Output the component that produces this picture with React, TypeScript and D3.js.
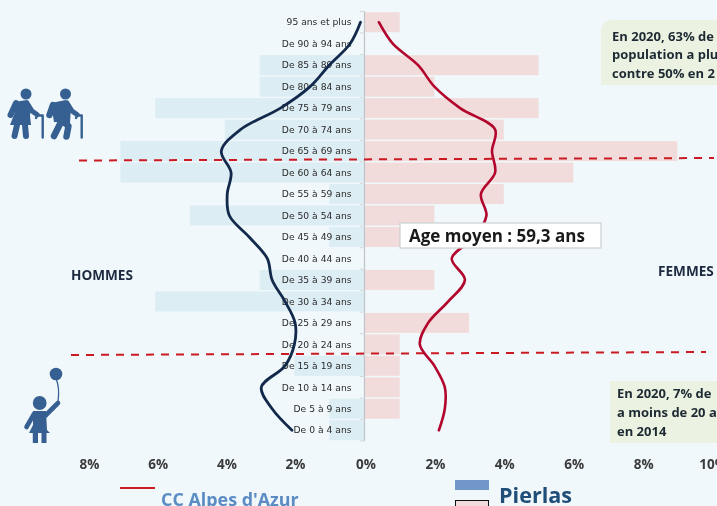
import React from "react";
import * as d3 from "d3";

const W = 717, H = 506;
const ageGroups = ["95 ans et plus","De 90 à 94 ans","De 85 à 89 ans","De 80 à 84 ans","De 75 à 79 ans","De 70 à 74 ans","De 65 à 69 ans","De 60 à 64 ans","De 55 à 59 ans","De 50 à 54 ans","De 45 à 49 ans","De 40 à 44 ans","De 35 à 39 ans","De 30 à 34 ans","De 25 à 29 ans","De 20 à 24 ans","De 15 à 19 ans","De 10 à 14 ans","De 5 à 9 ans","De 0 à 4 ans"];
const pierlasHommes = [0,0,3,3,6,4,7,7,1,5,1,0,3,6,0,0,2,0,1,1];
const pierlasFemmes = [1,0,5,2,5,4,9,6,4,2,2,0,2,0,3,1,1,1,1,0];
const ccHommes = [0.1,0.4,1.0,1.55,2.4,3.55,4.1,3.82,3.93,3.87,3.3,2.78,2.64,2.27,1.98,2.0,2.27,2.95,2.64,2.07];
const ccFemmes = [0.4,0.8,1.53,2.0,2.74,3.75,3.66,3.75,3.34,3.5,3.17,2.5,2.88,2.4,1.82,1.58,2.0,2.3,2.3,2.13];
const leftTicks = [8,6,4,2];
const rightTicks = [0,2,4,6,8,10];

const FONT = "'Open Sans', 'Noto Sans', sans-serif";
const xL = d3.scaleLinear().domain([0, 8]).range([364, 85.6]);
const xR = d3.scaleLinear().domain([0, 10]).range([365, 712]);
const xLabelL = d3.scaleLinear().domain([0, 8]).range([364.2, 89.5]);
const y = d3.scaleBand<string>().domain(ageGroups).range([11.5, 441]).paddingInner(0.07).paddingOuter(0.035);
const cy = (g: string) => (y(g) as number) + y.bandwidth() / 2;

const lineL = d3.line<number>().x(d => xL(d)).y((_, i) => cy(ageGroups[i])).curve(d3.curveCatmullRom.alpha(0.5));
const lineR = d3.line<number>().x(d => xR(d)).y((_, i) => cy(ageGroups[i])).curve(d3.curveCatmullRom.alpha(0.5));

const ICON = "#366092";

function Seniors() {
  return (
    <g fill={ICON} stroke="none">
      <circle cx={26} cy={94} r={5.5} />
      <path d="M14 102 L27 100 L31 108 L30 116 L31 125 L10 125 L15 112 Z" />
      <g fill="none" stroke={ICON} strokeLinecap="round" strokeLinejoin="round">
        <path d="M16 103 L10.5 115" strokeWidth={6} />
        <path d="M27 103 L32 111 L37 114.5" strokeWidth={5} />
        <path d="M17 125 L14.5 136 M25 125 L26 136" strokeWidth={6} />
        <path d="M36 118 L37 115.5 L42.7 115.5 L42.7 137.5" strokeWidth={2.4} />
      </g>
      <circle cx={65.5} cy={94} r={5.5} />
      <path d="M51 103 L66 100 L71 106 L70 123 L54 122 Z" />
      <g fill="none" stroke={ICON} strokeLinecap="round" strokeLinejoin="round">
        <path d="M53 105 L49.5 115" strokeWidth={6.5} />
        <path d="M67 103 L72 111 L77 114.5" strokeWidth={5} />
        <path d="M61 122 L54 136 M62 121 L68.5 126 L66.5 136.5" strokeWidth={6.5} />
        <path d="M76 118 L77 115.5 L81.7 115.5 L81.7 137.5" strokeWidth={2.4} />
      </g>
    </g>
  );
}
function Child() {
  return (
    <g>
      <circle cx={56} cy={374} r={6.3} fill={ICON} />
      <path d="M56.5 380 C 59 386, 59 394, 58 402" fill="none" stroke={ICON} strokeWidth={1.3} />
      <circle cx={39.7} cy={403} r={6.9} fill={ICON} />
      <path d="M33 411 L46 411 L47 430 L50 433 L46.5 433 L46.5 443 L41.5 443 L41.5 433 L38 433 L38 443 L32.8 443 L32.8 433 L29 433 L33 425 Z" fill={ICON} />
      <path d="M45 416 L58 403 M34 414 L26.5 427" fill="none" stroke={ICON} strokeWidth={4.6} strokeLinecap="round" />
    </g>
  );
}

export default function App() {
  return (
    <svg width={W} height={H} viewBox={`0 0 ${W} ${H}`} style={{ position: "absolute", left: 0, top: 0, background: "#F0F8FB", fontFamily: FONT }}>
      <g style={{ filter: "blur(0.35px)" }}>
        {/* callouts */}
        <path d={`M${W + 5} 20 L613 20 Q601 20 601 32 L601 85 L${W + 5} 85 Z`} fill="#ECF2E1" />
        <rect x={610} y={381} width={112} height={62} fill="#ECF2E1" />
        <g fontWeight={700} fontSize={13} fill="#1d2a33">
          <text x={612} y={40.5}>En 2020, 63% de</text>
          <text x={612} y={59}>population a plu</text>
          <text x={612} y={78}>contre 50% en 2</text>
          <text x={617} y={398}>En 2020, 7% de</text>
          <text x={617} y={417}>a moins de 20 a</text>
          <text x={617} y={435.5}>en 2014</text>
        </g>

        {/* bars */}
        {ageGroups.map((g, i) => pierlasHommes[i] > 0 && (
          <rect key={g} x={xL(pierlasHommes[i])} y={y(g)} width={xL(0) - xL(pierlasHommes[i])} height={y.bandwidth()} fill="#DCEDF3" />
        ))}
        {ageGroups.map((g, i) => pierlasFemmes[i] > 0 && (
          <rect key={g} x={xR(0)} y={y(g)} width={xR(pierlasFemmes[i]) - xR(0)} height={y.bandwidth()} fill="#F2DCDB" />
        ))}

        {/* centre axis */}
        <line x1={364.5} x2={364.5} y1={11.5} y2={441} stroke="#BFC4C6" strokeWidth={1.2} />
        {d3.range(ageGroups.length + 1).map(i => {
          const ty = 11.5 + (i * (441 - 11.5)) / ageGroups.length;
          return <line key={i} x1={360} x2={364.5} y1={ty} y2={ty} stroke="#D4D9DB" strokeWidth={1} />;
        })}

        {/* category labels */}
        <g fontFamily="'DejaVu Sans', sans-serif" fontSize={9.2} fill="#2b2b2b" textAnchor="end">
          {ageGroups.map(g => (
            <text key={g} x={351.5} y={cy(g) + 3.2}>{g}</text>
          ))}
        </g>

        {/* reference lines */}
        <line x1={79} y1={160.5} x2={714} y2={158} stroke="#CC1A22" strokeWidth={2} strokeDasharray="8 7" />
        <line x1={71} y1={355} x2={706} y2={352} stroke="#CC1A22" strokeWidth={2} strokeDasharray="8 7" />

        {/* curves */}
        <path d={lineL(ccHommes) ?? ""} fill="none" stroke="#12294B" strokeWidth={2.8} strokeLinecap="round" />
        <path d={lineR(ccFemmes) ?? ""} fill="none" stroke="#B2062C" strokeWidth={2.6} strokeLinecap="round" />

        {/* x axis labels */}
        <g fontWeight={700} fontSize={13.5} fill="#3a3a3a" textAnchor="middle">
          {leftTicks.map(t => <text key={t} x={xLabelL(t)} y={469}>{t}%</text>)}
          {rightTicks.map(t => <text key={t} x={xR(t) + 1} y={469}>{t}%</text>)}
        </g>

        {/* average box */}
        <rect x={400} y={223} width={201} height={25} fill="#FFFFFF" stroke="#CCD0D2" strokeWidth={1.2} />
        <text x={409} y={242} fontSize={17} fontWeight={700} fill="#1a1a1a">Age moyen : 59,3 ans</text>

        {/* sides */}
        <text x={71} y={280} fontSize={13.6} fontWeight={700} fill="#1d2a40">HOMMES</text>
        <text x={658} y={276} fontSize={13.6} fontWeight={700} fill="#1d2a40">FEMMES</text>

        {/* icons */}
        <Seniors />
        <Child />

        {/* legend */}
        <line x1={120} x2={155} y1={488} y2={488} stroke="#CC1A22" strokeWidth={2} />
        <text x={161} y={505.5} fontSize={17.9} fontWeight={700} fill="#5B8CC4">CC Alpes d'Azur</text>
        <rect x={455} y={480} width={34} height={10} fill="#7097C8" />
        <rect x={455.5} y={500.5} width={33} height={12} fill="#F2DCDB" stroke="#111" strokeWidth={1} />
        <text x={499} y={503} fontSize={21.6} fontWeight={700} fill="#1F4E79">Pierlas</text>
      </g>
    </svg>
  );
}
